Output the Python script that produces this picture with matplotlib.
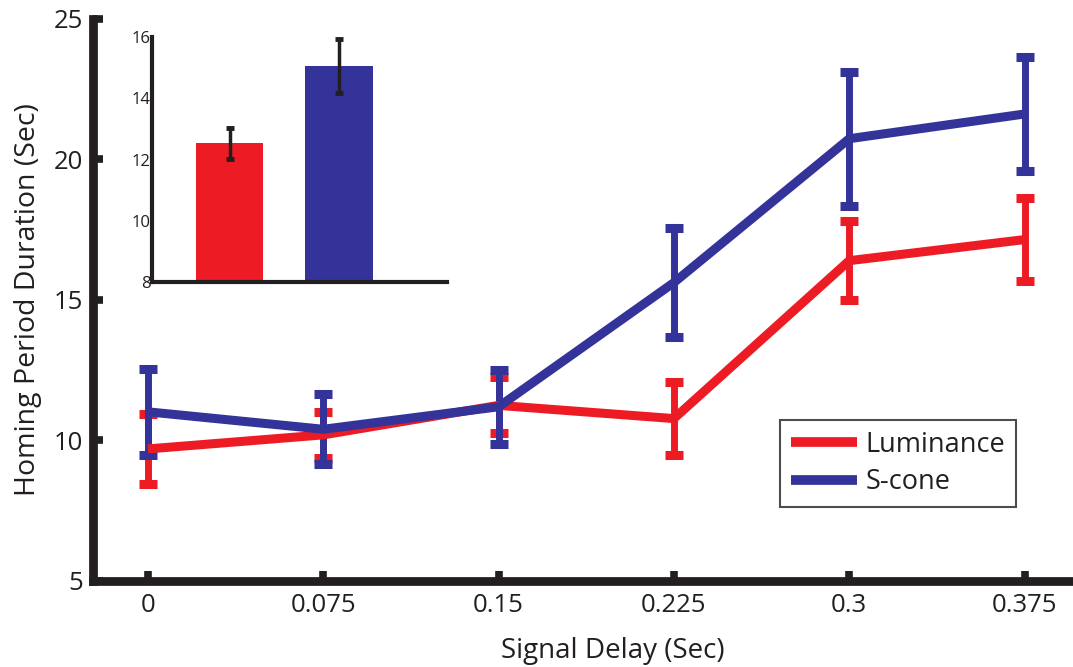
import matplotlib
matplotlib.use("Agg")
import matplotlib.pyplot as plt
from matplotlib.lines import Line2D

plt.rcParams['font.family'] = ['Open Sans', 'DejaVu Sans']

# Data
delays = [0, 0.075, 0.15, 0.225, 0.3, 0.375]
tick_labels = ['0', '0.075', '0.15', '0.225', '0.3', '0.375']
lum_mean = [9.70, 10.20, 11.25, 10.78, 16.40, 17.15]
lum_err = [1.25, 0.82, 1.00, 1.31, 1.40, 1.48]
scone_mean = [11.02, 10.40, 11.20, 15.62, 20.74, 21.62]
scone_err = [1.52, 1.25, 1.32, 1.93, 2.38, 2.02]

inset_labels = ['Luminance', 'S-cone']
inset_mean = [12.53, 15.06]
inset_err = [0.50, 0.87]

RED = '#ED1C24'
BLUE = '#333399'
DARK = '#231F20'

fig = plt.figure(figsize=(10.73, 6.67), dpi=100)
ax = fig.add_axes([93/1073, 86/667, 990/1073, 562/667])

series = [(lum_mean, lum_err, RED, 'Luminance'),
          (scone_mean, scone_err, BLUE, 'S-cone')]
for m, e, c, lab in series:
    ax.errorbar(delays, m, yerr=e, color=c, lw=6.5, elinewidth=5,
                capsize=6.5, capthick=6.5, solid_capstyle='butt')

ax.set_xlim(-0.0235, 0.4)
ax.set_ylim(5, 25)
ax.set_xticks(delays)
ax.set_xticklabels(tick_labels)
ax.set_yticks([5, 10, 15, 20, 25])
for s in ['top', 'right']:
    ax.spines[s].set_visible(False)
for s in ['left', 'bottom']:
    ax.spines[s].set_linewidth(6.3)
    ax.spines[s].set_color(DARK)
    ax.spines[s].set_capstyle('projecting')
ax.tick_params(direction='in', length=7, width=5.5, color=DARK,
               labelsize=18.5, labelcolor=DARK)
ax.tick_params(axis='y', pad=7)
ax.tick_params(axis='x', pad=9)
ax.set_xlabel('Signal Delay (Sec)', fontsize=20, color=DARK)
ax.set_ylabel('Homing Period Duration (Sec)', fontsize=20.5, color=DARK)
ax.xaxis.set_label_coords((613-93)/990, -0.1)
ax.yaxis.set_label_coords(-0.052, 0.5)

handles = [Line2D([], [], color=c, lw=7, solid_capstyle='butt')
           for _, _, c, _ in series]
leg = ax.legend(handles, [s[3] for s in series], loc='upper left',
                bbox_to_anchor=(780/1073, 1 - 420/667),
                bbox_transform=fig.transFigure, fontsize=19.5, frameon=True,
                fancybox=False, edgecolor=DARK, handlelength=2.45,
                borderpad=0.4, labelspacing=0.35, handletextpad=0.3,
                borderaxespad=0)
leg.get_frame().set_linewidth(1.5)
for t in leg.get_texts():
    t.set_color(DARK)

# Inset
ins = fig.add_axes([152/1073, (667-281.7)/667, 295/1073, 244.4/667])
xpos = [1, 2]
ins.bar(xpos, [v - 8 for v in inset_mean], bottom=8, width=0.62,
        color=[RED, BLUE], zorder=1)
ins.errorbar(xpos, inset_mean, yerr=inset_err, fmt='none', ecolor=DARK,
             elinewidth=2.5, capsize=3, capthick=3.5, zorder=2)
ins.set_xlim(0.29, 2.99)
ins.set_ylim(8, 16)
ins.set_yticks([8, 10, 12, 14, 16])
ins.set_xticks([])
for s in ['top', 'right']:
    ins.spines[s].set_visible(False)
for s in ['left', 'bottom']:
    ins.spines[s].set_linewidth(3)
    ins.spines[s].set_color(DARK)
ins.tick_params(axis='y', length=0, pad=1, labelsize=12, labelcolor=DARK)
ins.patch.set_alpha(0)

fig.savefig('out.png', dpi=100)
